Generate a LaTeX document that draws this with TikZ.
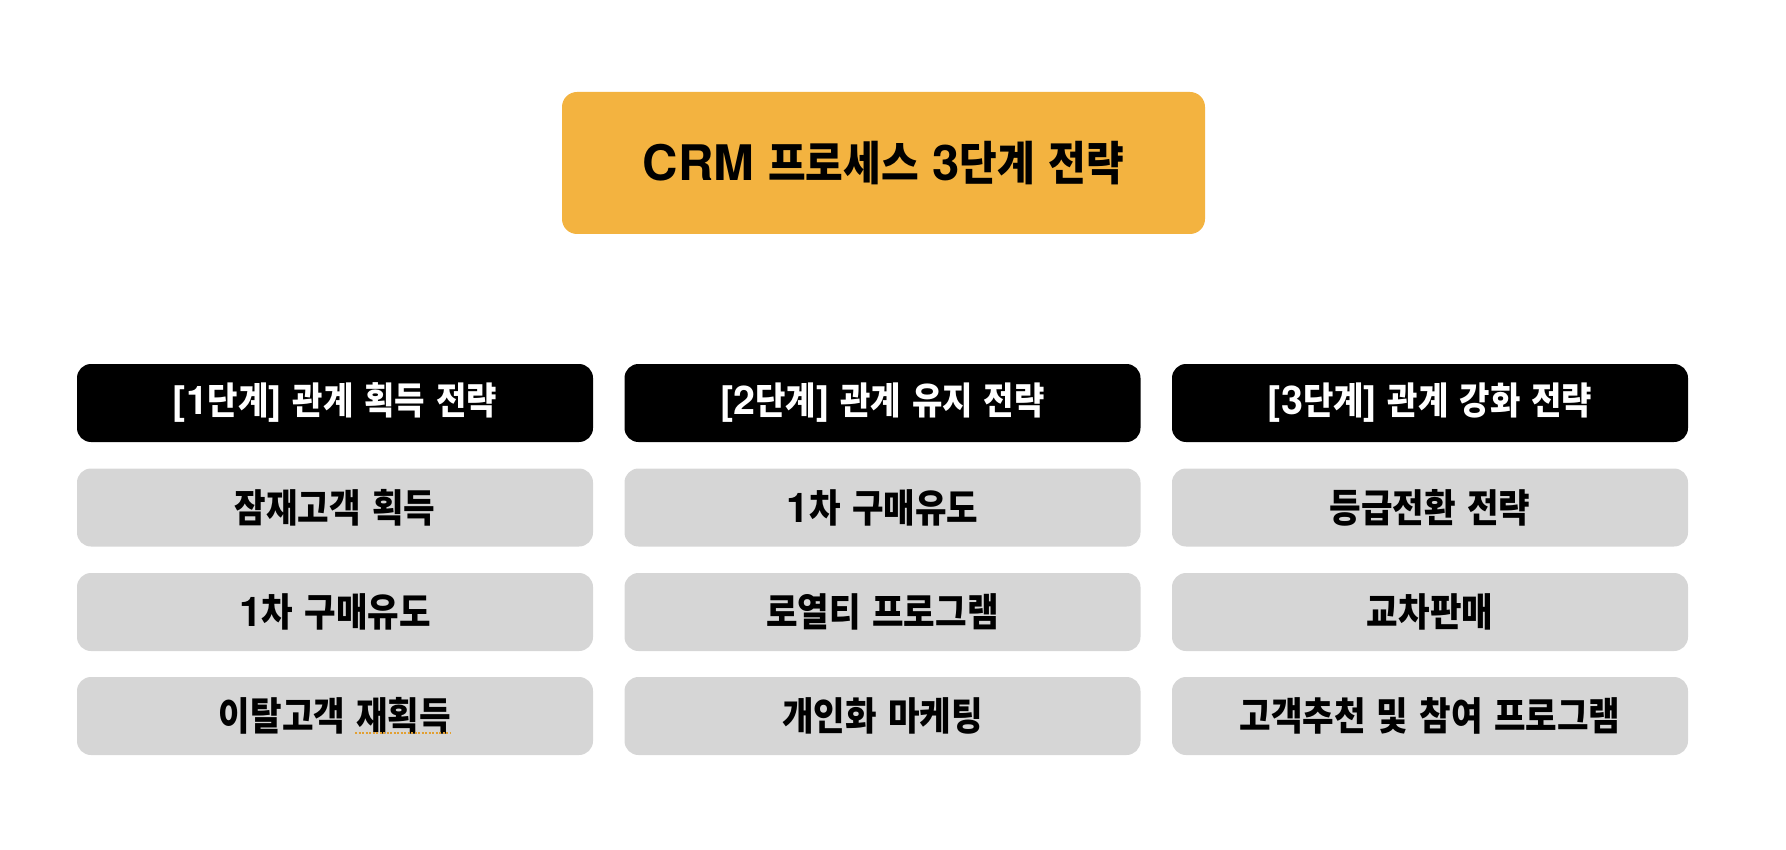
\documentclass[tikz,border=0pt]{standalone}
\usepackage{fontspec}
\setmainfont{TeX Gyre Heros}
\newfontfamily\kr{Noto Sans CJK KR Bold}[Scale=0.95,FakeStretch=0.88]
\newcommand{\K}[1]{{\kr #1}}
\definecolor{titleorange}{HTML}{F3B340}
\definecolor{itemgray}{HTML}{D6D6D6}
\definecolor{spellorange}{HTML}{E2A032}
\tikzset{
  titlebox/.style={draw=none, fill=titleorange, rounded corners=15pt, minimum width=643pt, minimum height=142pt, inner sep=0pt, font=\fontsize{49}{58}\selectfont\bfseries, text=black},
  headbox/.style={draw=none, fill=black, rounded corners=14pt, minimum width=516pt, minimum height=78pt, inner sep=0pt, font=\fontsize{39.5}{48}\selectfont\bfseries, text=white},
  itembox/.style={draw=none, fill=itemgray, rounded corners=14pt, minimum width=516pt, minimum height=78pt, inner sep=0pt, font=\fontsize{41}{48}\selectfont\bfseries, text=black},
  spellmark/.style={draw=spellorange, line width=2pt, dash pattern=on 2pt off 1.5pt}
}
\begin{document}
\begin{tikzpicture}[x=1pt,y=-1pt]
\useasboundingbox (0,0) rectangle (1786,850);
\node[titlebox] (title) at (883.5,163) {CRM \K{프로세스} 3\K{단계} \K{전략}};
% headers
\node[headbox] (h1) at (335,403) {[1\K{단계}] \K{관계} \K{획득} \K{전략}};
\node[headbox] (h2) at (882.5,403) {[2\K{단계}] \K{관계} \K{유지} \K{전략}};
\node[headbox] (h3) at (1430,403) {[3\K{단계}] \K{관계} \K{강화} \K{전략}};
% column 1
\node[itembox] (a1) at (335,507.5) {\K{잠재고객} \K{획득}};
\node[itembox] (a2) at (335,612) {1\K{차} \K{구매유도}};
\node[itembox] (a3) at (335,716) {\K{이탈고객} \K{재획득}};
% column 2
\node[itembox] (b1) at (882.5,507.5) {1\K{차} \K{구매유도}};
\node[itembox] (b2) at (882.5,612) {\K{로열티} \K{프로그램}};
\node[itembox] (b3) at (882.5,716) {\K{개인화} \K{마케팅}};
% column 3
\node[itembox] (c1) at (1430,507.5) {\K{등급전환} \K{전략}};
\node[itembox] (c2) at (1430,612) {\K{교차판매}};
\node[itembox] (c3) at (1430,716) {\K{고객추천} \K{및} \K{참여} \K{프로그램}};
% spell-check underline
\coordinate (s1) at (355,733);
\coordinate (s2) at (450,733);
\draw[spellmark] (s1) -- (s2);
\end{tikzpicture}
\end{document}
